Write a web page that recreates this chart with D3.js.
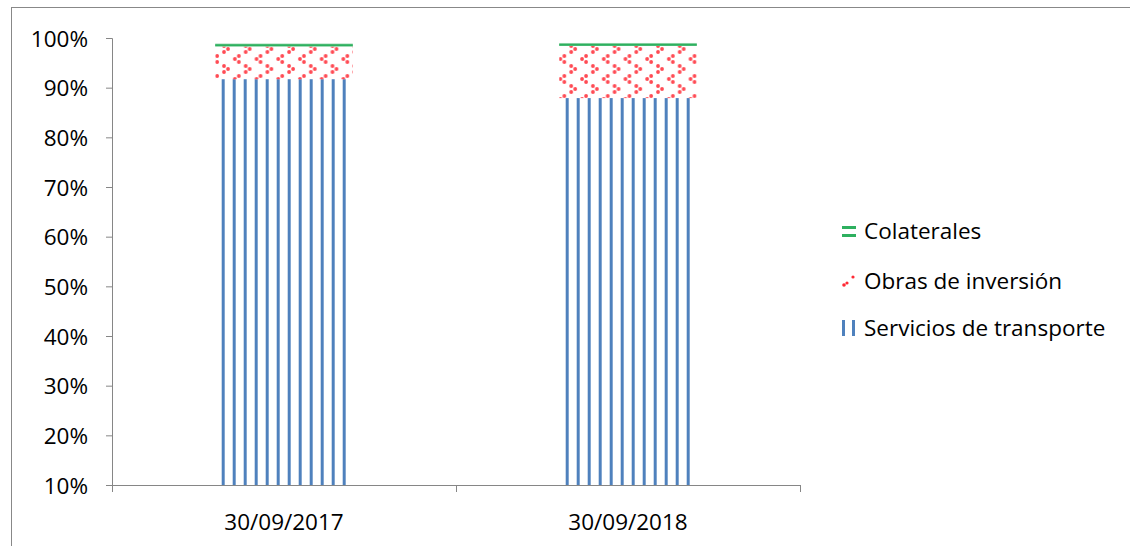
<!DOCTYPE html>
<html><head><meta charset="utf-8">
<script src="https://cdn.jsdelivr.net/npm/d3@7"></script>
<style>body{margin:0;background:#fff}text{font-family:"Open Sans",sans-serif;fill:#000}</style>
</head><body><svg id="c" width="1130" height="546"></svg>
<script>
const categories = ["30/09/2017", "30/09/2018"];
const seriesNames = ["Servicios de transporte", "Obras de inversión", "Colaterales"];
const servicios = [91.7, 87.9];
const obras = [6.6, 10.5];
const colaterales = [0.6, 0.6];
const yTicks = [10, 20, 30, 40, 50, 60, 70, 80, 90, 100];

(function () {
const svg = d3.select("#c");
const FS = 22.5;
svg.append("rect").attr("x", 11.5).attr("y", 7.5).attr("width", 1200).attr("height", 600)
  .attr("fill", "#fff").attr("stroke", "#888").attr("stroke-width", 1);

const pLeft = 112, pRight = 800, pTop = 38, pBottom = 485;
const x = d3.scaleBand().domain(categories).range([pLeft, pRight]).paddingInner(0.6).paddingOuter(0.3);
const y = d3.scaleLinear().domain([10, 100]).range([pBottom, pTop]);

const defs = svg.append("defs");
const clip = defs.append("clipPath").attr("id", "plot");
clip.append("rect").attr("x", pLeft).attr("y", 0).attr("width", pRight - pLeft).attr("height", pBottom);

categories.forEach((c, i) => {
  const p = defs.append("pattern").attr("id", "blue" + i).attr("patternUnits", "userSpaceOnUse")
    .attr("x", x(c) + 6.5).attr("y", 0).attr("width", 11).attr("height", 10);
  p.append("rect").attr("x", 0).attr("y", 0).attr("width", 3).attr("height", 10).attr("fill", "#4F81BD");
});
const rp = defs.append("pattern").attr("id", "red").attr("patternUnits", "userSpaceOnUse")
  .attr("x", 4).attr("y", 4).attr("width", 21.7).attr("height", 20);
function chevron(g, cx, cy, dir) {
  const pts = dir < 0 ? [[cx + 2, cy - 3], [cx - 2, cy], [cx + 2, cy + 3]] : [[cx - 2, cy - 3], [cx + 2, cy], [cx - 2, cy + 3]];
  pts.forEach(pt => g.append("circle").attr("cx", pt[0]).attr("cy", pt[1]).attr("r", 1.9).attr("fill", "#FF2A35").attr("opacity", 0.85));
}
chevron(rp, 5, 5, 1);
chevron(rp, 15.85, 15, -1);

const stackData = categories.map((c, i) => ({cat: c, i, s: servicios[i], o: obras[i], k: colaterales[i]}));
const plot = svg.append("g").attr("clip-path", "url(#plot)");
stackData.forEach(d => {
  const bx = x(d.cat), bw = x.bandwidth();
  plot.append("rect").attr("x", bx).attr("width", bw).attr("y", y(d.s)).attr("height", y(0) - y(d.s))
    .attr("fill", "url(#blue" + d.i + ")");
  plot.append("rect").attr("x", bx).attr("width", bw).attr("y", y(d.s + d.o)).attr("height", y(d.s) - y(d.s + d.o))
    .attr("fill", "url(#red)");
  const gt = y(d.s + d.o + d.k), gb = y(d.s + d.o);
  plot.append("rect").attr("x", bx).attr("width", bw).attr("y", gt).attr("height", gb - gt)
    .attr("fill", "#A8DDBA");
  plot.append("rect").attr("x", bx).attr("width", bw).attr("y", gt + (gb - gt) * 0.25).attr("height", (gb - gt) * 0.7)
    .attr("fill", "#2EB05F");
});

const axisColor = "#868686";
const ya = svg.append("g").attr("transform", `translate(${pLeft},0)`)
  .call(d3.axisLeft(y).tickValues(yTicks).tickSize(6).tickFormat(d => d + "%"));
ya.select(".domain").attr("stroke", axisColor).attr("d", `M-6,${pTop+0.5}H0.5V${pBottom}`);
ya.selectAll(".tick line").attr("stroke", axisColor);
ya.selectAll(".tick text").attr("font-size", FS).attr("x", -24).attr("dy", "0.36em")
  .style("font-family", "'Open Sans', sans-serif").attr("fill", "#000");

const xa = svg.append("g").attr("transform", `translate(0,${pBottom})`);
xa.append("line").attr("x1", pLeft).attr("x2", pRight).attr("y1", 0.5).attr("y2", 0.5).attr("stroke", axisColor);
const bounds = [pLeft, (pLeft + pRight) / 2, pRight];
xa.selectAll("line.t").data(bounds).enter().append("line").attr("class", "t")
  .attr("x1", d => d + 0.5).attr("x2", d => d + 0.5).attr("y1", 0).attr("y2", 7).attr("stroke", axisColor);
xa.selectAll("text").data(categories).enter().append("text")
  .attr("x", d => x(d) + x.bandwidth() / 2).attr("y", 45).attr("text-anchor", "middle")
  .attr("font-size", FS).text(d => d);

const leg = svg.append("g");
const legItems = [
  {name: seriesNames[2], y: 231, type: "green"},
  {name: seriesNames[1], y: 281, type: "red"},
  {name: seriesNames[0], y: 328, type: "blue"}
];
legItems.forEach(it => {
  const g = leg.append("g");
  if (it.type === "green") {
    g.append("rect").attr("x", 842).attr("y", it.y - 5).attr("width", 14).attr("height", 3).attr("fill", "#2EB05F");
    g.append("rect").attr("x", 842).attr("y", it.y + 3).attr("width", 14).attr("height", 3).attr("fill", "#2EB05F");
  } else if (it.type === "red") {
    g.append("circle").attr("cx", 844).attr("cy", it.y + 4).attr("r", 1.8).attr("fill", "#FF2A35");
    g.append("circle").attr("cx", 847).attr("cy", it.y + 2).attr("r", 1.6).attr("fill", "#FF2A35");
    g.append("circle").attr("cx", 853).attr("cy", it.y - 4).attr("r", 1.6).attr("fill", "#FF2A35");
  } else {
    g.append("rect").attr("x", 842).attr("y", it.y - 8).attr("width", 3).attr("height", 16).attr("fill", "#4F81BD");
    g.append("rect").attr("x", 852).attr("y", it.y - 8).attr("width", 3).attr("height", 16).attr("fill", "#4F81BD");
  }
  g.append("text").attr("x", 864).attr("y", it.y).attr("dy", "0.36em").attr("font-size", FS).text(it.name);
});
})();
</script></body></html>
